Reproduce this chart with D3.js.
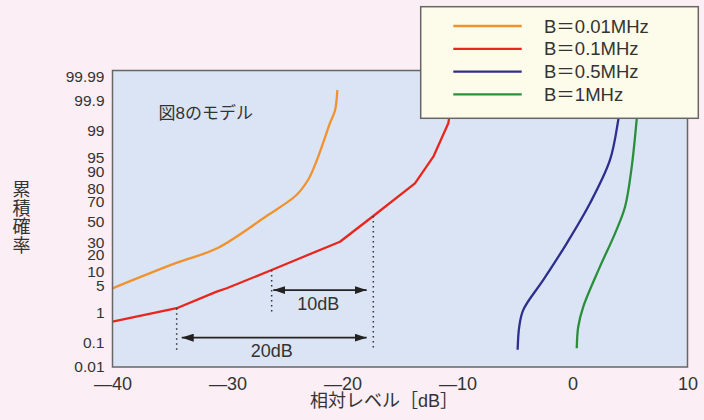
<!DOCTYPE html>
<html>
<head>
<meta charset="utf-8">
<script src="https://cdn.jsdelivr.net/npm/d3@7"></script>
<style>
  body { margin: 0; background: #fbeef5; }
  svg { display: block; font-family: "Liberation Sans", Arial, "Noto Sans CJK JP", sans-serif; }
  .axis text { fill: #333; }
</style>
</head>
<body>
<div id="chart"></div>
<script>
// levels in dB, cumulative probability in %
var orangeDb  = [-40, -34.4, -30.9, -26.6, -24.0, -23.0, -22.4, -21.7, -21.1, -20.65, -20.45];
var orangePct = [4.4, 14.7, 24.8, 55.8, 75.3, 85.7, 92.6, 97.75, 99.41, 99.78, 99.962];

var redDb  = [-40, -34.42, -30.94, -30.07, -26.16, -23.7, -20.22, -17.32, -13.7, -12.1, -10.8, -10.48, -10.4];
var redPct = [0.53, 1.34, 3.67, 4.43, 10.8, 17.5, 30.4, 55.8, 83.7, 95.2, 99.41, 99.906, 99.98];

var blueDb  = [-4.77, -4.63, -4.28, -2.54, -0.5, 1.52, 3.26, 3.98, 4.3];
var bluePct = [0.052, 0.36, 1.2, 6.8, 29, 68.1, 94.3, 99.54, 99.94];

var greenDb  = [0.37, 0.5, 0.94, 2.39, 3.7, 4.57, 5.15, 5.58, 5.78];
var greenPct = [0.06, 0.36, 1.49, 12.5, 38.3, 64.9, 92.0, 99.54, 99.94];

var seriesNames = ["B＝0.01MHz", "B＝0.1MHz", "B＝0.5MHz", "B＝1MHz"];
var seriesColors = ["#f0922e", "#e8261c", "#2e2e8c", "#2a8f3a"];

var xTicks = [-40, -30, -20, -10, 0, 10];
var yTicks = [0.01, 0.1, 1, 5, 10, 20, 30, 50, 70, 80, 90, 95, 99, 99.9, 99.99];

// dotted guide lines: level, top %, bottom %
var guideDb  = [-34.42, -26.16, -17.32];
var guideTop = [1.34, 10.8, 55.8];
var guideBot = [0.052, 1.07, 0.06];

// arrows: from, to, height %, label, label level, label %
var arrowFrom  = [-26.02, -33.98];
var arrowTo    = [-17.9, -17.9];
var arrowPct   = [4.0, 0.15];
var arrowText  = ["10dB", "20dB"];
var arrowTextDb  = [-22.1, -26.16];
var arrowTextPct = [1.76, 0.048];

// inverse normal CDF (Acklam)
function probit(p) {
  var a = [-39.69683028665376, 220.9460984245205, -275.9285104469687, 138.3577518672690, -30.66479806614716, 2.506628277459239];
  var b = [-54.47609879822406, 161.5858368580409, -155.6989798598866, 66.80131188771972, -13.28068155288572];
  var c = [-0.007784894002430293, -0.3223964580411365, -2.400758277161838, -2.549732539343734, 4.374664141464968, 2.938163982698783];
  var d = [0.007784695709041462, 0.3224671290700398, 2.445134137142996, 3.754408661907416];
  var pl = 0.02425, q, r;
  if (p < pl) {
    q = Math.sqrt(-2 * Math.log(p));
    return (((((c[0]*q+c[1])*q+c[2])*q+c[3])*q+c[4])*q+c[5]) / ((((d[0]*q+d[1])*q+d[2])*q+d[3])*q+1);
  }
  if (p > 1 - pl) {
    q = Math.sqrt(-2 * Math.log(1 - p));
    return -(((((c[0]*q+c[1])*q+c[2])*q+c[3])*q+c[4])*q+c[5]) / ((((d[0]*q+d[1])*q+d[2])*q+d[3])*q+1);
  }
  q = p - 0.5; r = q * q;
  return (((((a[0]*r+a[1])*r+a[2])*r+a[3])*r+a[4])*r+a[5])*q / (((((b[0]*r+b[1])*r+b[2])*r+b[3])*r+b[4])*r+1);
}

var margin = { top: 70.5, left: 112.5 },
  width = 575,
  height = 296.5;

var xScale = d3.scaleLinear().domain([-40, 10]).range([0, width]);
var zScale = d3.scaleLinear().domain([-3.719, 3.87]).range([height, 0]);
var yScale = function (pct) { return zScale(probit(pct / 100)); };

var svg = d3.select("#chart").append("svg")
  .attr("width", 704)
  .attr("height", 420);

svg.append("rect").attr("width", 704).attr("height", 420).attr("fill", "#fbeef5");

var g = svg.append("g")
  .attr("transform", "translate(" + margin.left + "," + margin.top + ")");

g.append("rect")
  .attr("width", width)
  .attr("height", height)
  .attr("fill", "#dbe4f4");

g.append("clipPath").attr("id", "plotClip")
  .append("rect").attr("width", width).attr("height", height);

// axes
var xAxis = g.append("g")
  .attr("class", "axis")
  .attr("transform", "translate(0," + height + ")")
  .call(d3.axisBottom(xScale).tickValues(xTicks).tickSize(0).tickPadding(10)
    .tickFormat(function (d) { return d < 0 ? "—" + Math.abs(d) : d; }));
xAxis.select(".domain").remove();
xAxis.selectAll("text").style("font-size", "18px");

var yAxis = g.append("g")
  .attr("class", "axis")
  .call(d3.axisLeft(d3.scaleLinear().domain(zScale.domain()).range(zScale.range()))
    .tickValues(yTicks.map(function (p) { return probit(p / 100); }))
    .tickSize(0).tickPadding(8)
    .tickFormat(function (d, i) { return yTicks[i]; }));
yAxis.select(".domain").remove();
yAxis.selectAll("text").style("font-size", "15.5px");

// curves
var curves = [
  { db: orangeDb, pct: orangePct, curve: d3.curveCatmullRom.alpha(0.5) },
  { db: redDb, pct: redPct, curve: d3.curveLinear },
  { db: blueDb, pct: bluePct, curve: d3.curveCatmullRom.alpha(0.5) },
  { db: greenDb, pct: greenPct, curve: d3.curveCatmullRom.alpha(0.5) }
];

var plot = g.append("g").attr("clip-path", "url(#plotClip)");

curves.forEach(function (c, k) {
  var line = d3.line()
    .x(function (d, i) { return xScale(c.db[i]); })
    .y(function (d, i) { return yScale(c.pct[i]); })
    .curve(c.curve);
  plot.append("path")
    .datum(c.db)
    .attr("d", line)
    .attr("fill", "none")
    .attr("stroke", seriesColors[k])
    .attr("stroke-width", 2.3)
    .attr("stroke-linejoin", "round");
});

// guides
plot.selectAll(".guide")
  .data(guideDb)
  .enter().append("line")
  .attr("class", "guide")
  .attr("x1", function (d) { return xScale(d); })
  .attr("x2", function (d) { return xScale(d); })
  .attr("y1", function (d, i) { return yScale(guideTop[i]); })
  .attr("y2", function (d, i) { return yScale(guideBot[i]); })
  .attr("stroke", "#333")
  .attr("stroke-width", 1.5)
  .attr("stroke-dasharray", "1.5,3.5");

var defs = svg.append("defs");
["arrEnd", "arrStart"].forEach(function (id, k) {
  defs.append("marker")
    .attr("id", id)
    .attr("viewBox", "0 0 12 8")
    .attr("refX", k === 0 ? 12 : 0)
    .attr("refY", 4)
    .attr("markerWidth", 12)
    .attr("markerHeight", 8)
    .attr("markerUnits", "userSpaceOnUse")
    .attr("orient", "auto")
    .append("path")
    .attr("d", k === 0 ? "M0,0L12,4L0,8Z" : "M12,0L0,4L12,8Z")
    .attr("fill", "#222");
});

g.selectAll(".arrow")
  .data(arrowFrom)
  .enter().append("line")
  .attr("class", "arrow")
  .attr("x1", function (d) { return xScale(d); })
  .attr("x2", function (d, i) { return xScale(arrowTo[i]); })
  .attr("y1", function (d, i) { return yScale(arrowPct[i]); })
  .attr("y2", function (d, i) { return yScale(arrowPct[i]); })
  .attr("stroke", "#222")
  .attr("stroke-width", 1.6)
  .attr("marker-start", "url(#arrStart)")
  .attr("marker-end", "url(#arrEnd)");

g.selectAll(".arrowLabel")
  .data(arrowText)
  .enter().append("text")
  .attr("x", function (d, i) { return xScale(arrowTextDb[i]); })
  .attr("y", function (d, i) { return yScale(arrowTextPct[i]); })
  .attr("dy", "0.35em")
  .attr("text-anchor", "middle")
  .style("font-size", "18px")
  .style("fill", "#333")
  .text(function (d) { return d; });

g.append("text")
  .attr("x", 46)
  .attr("y", 48.5)
  .style("font-size", "17px")
  .style("fill", "#333")
  .text("図8のモデル");

g.append("rect")
  .attr("width", width)
  .attr("height", height)
  .attr("fill", "none")
  .attr("stroke", "#666")
  .attr("stroke-width", 1.5);

// axis titles
svg.append("text")
  .attr("x", 384)
  .attr("y", 407)
  .attr("text-anchor", "middle")
  .style("font-size", "18px")
  .style("fill", "#333")
  .text("相対レベル［dB］");

var yTitle = svg.append("text")
  .attr("text-anchor", "middle")
  .style("font-size", "18px")
  .style("fill", "#333");
"累積確率".split("").forEach(function (ch, i) {
  yTitle.append("tspan")
    .attr("x", 21.5)
    .attr("y", 196 + i * 18.7)
    .text(ch);
});

// legend
var legend = svg.append("g").attr("transform", "translate(420.7,6.7)");
legend.append("rect")
  .attr("width", 277.6)
  .attr("height", 111.6)
  .attr("fill", "#fdfbe9")
  .attr("stroke", "#666")
  .attr("stroke-width", 1.5);

var items = legend.selectAll(".item")
  .data(seriesNames)
  .enter().append("g")
  .attr("class", "item")
  .attr("transform", function (d, i) { return "translate(0," + (19.3 + i * 22.8) + ")"; });

items.append("line")
  .attr("x1", 32.6).attr("x2", 101)
  .attr("stroke", function (d, i) { return seriesColors[i]; })
  .attr("stroke-width", 2.3);

items.append("text")
  .attr("x", 123.3)
  .attr("dy", "0.36em")
  .style("font-size", "18.5px")
  .style("fill", "#333")
  .text(function (d) { return d; });
</script>
</body>
</html>
